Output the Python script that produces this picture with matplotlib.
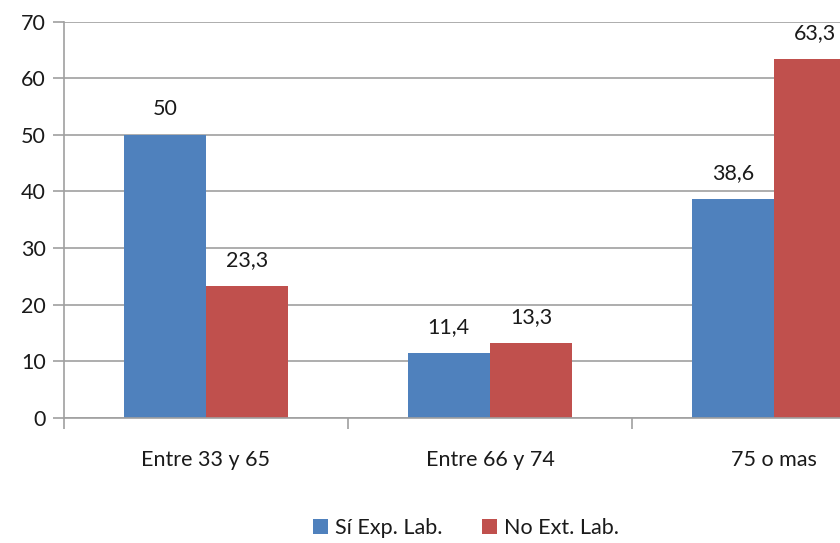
import matplotlib
matplotlib.use("Agg")
import matplotlib.pyplot as plt
import numpy as np

categories = ["Entre 33 y 65", "Entre 66 y 74", "75 o mas"]
si_exp = [50, 11.4, 38.6]
no_ext = [23.3, 13.3, 63.3]
series_names = ["Sí Exp. Lab.", "No Ext. Lab."]
y_ticks = [0, 10, 20, 30, 40, 50, 60, 70]

plt.rcParams["font.family"] = ["Lato", "DejaVu Sans"]

W, H = 840, 543
fig = plt.figure(figsize=(W / 100, H / 100), dpi=100)
# plot area runs past the right edge of the canvas
ax = fig.add_axes([64 / W, 125 / H, 852 / W, 396.5 / H])

blue = "#4F81BD"
red = "#C0504D"
grid_c = "#A0A0A0"
txt_c = "#1A1A1A"
fs = 15.5
bw = 0.29
x = np.arange(len(categories))

ax.set_axisbelow(True)
ax.yaxis.grid(True, color=grid_c, linewidth=1.2)
b1 = ax.bar(x - bw / 2, si_exp, width=bw, color=blue, label=series_names[0], zorder=2)
b2 = ax.bar(x + bw / 2, no_ext, width=bw, color=red, label=series_names[1], zorder=2)

def fmt(v):
    s = f"{v:g}"
    return s.replace(".", ",")

for bars, vals in ((b1, si_exp), (b2, no_ext)):
    for rect, v in zip(bars, vals):
        ax.annotate(fmt(v), (rect.get_x() + rect.get_width() / 2, v),
                    xytext=(0, 11.5), textcoords="offset points",
                    ha="center", va="bottom", fontsize=fs, color=txt_c,
                    annotation_clip=False)

ax.set_xlim(-0.5, 2.5)
ax.set_ylim(0, 70)
ax.set_yticks(y_ticks)
ax.set_yticklabels([str(t) for t in y_ticks])
ax.set_xticks(x)
ax.set_xticklabels(categories)
ax.set_xticks([-0.5, 0.5, 1.5, 2.5], minor=True)

for s in ("top", "right"):
    ax.spines[s].set_visible(False)
for s in ("left", "bottom"):
    ax.spines[s].set_color(grid_c)
    ax.spines[s].set_linewidth(1.2)

ax.tick_params(axis="y", length=8, width=1.2, color=grid_c, labelsize=fs,
               labelcolor=txt_c, pad=5)
ax.tick_params(axis="x", which="major", length=0, labelsize=fs,
               labelcolor=txt_c, pad=23)
ax.tick_params(axis="x", which="minor", length=8, width=1.2, color=grid_c)

fig.legend(handles=[b1, b2], labels=series_names, loc="center",
           bbox_to_anchor=(466 / W, 1 - 528 / H), ncol=2, frameon=False,
           fontsize=fs, handlelength=0.7, handleheight=0.7,
           handletextpad=0.35, columnspacing=1.8, labelcolor=txt_c)

fig.savefig("out.png", dpi=100, facecolor="white")
